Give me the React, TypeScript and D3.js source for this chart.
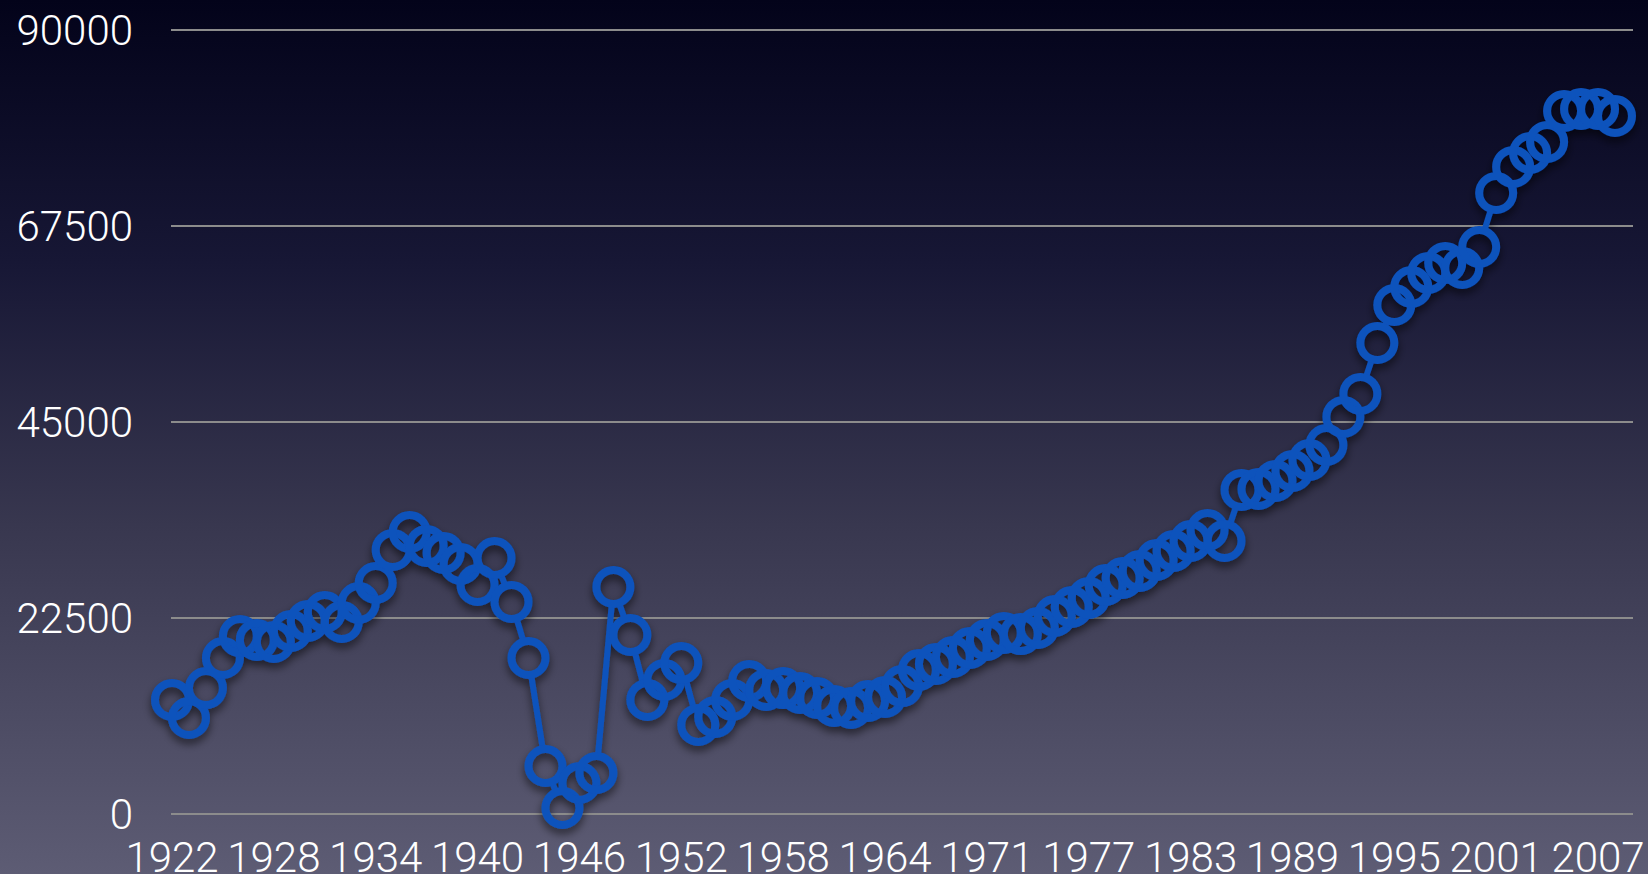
import React from "react";
import * as d3 from "d3";

const years: number[] = [
  ...d3.range(1922, 1965),
  ...d3.range(1966, 2009),
];

const values: number[] = [
  13090, 11020, 14460, 17910, 20430, 19980, 19750, 21010, 22160, 23190,
  22040, 24220, 26520, 30310, 32370, 30770, 29960, 28700, 26290, 29390,
  24340, 17910, 5510, 690, 3560, 4710, 26060, 20550, 13090, 15380,
  17330, 10220, 11140, 13090, 15270, 14240, 14460, 13890, 13320, 12400,
  12170, 12970, 13430, 14690, 16530, 17220, 18020, 19060, 19980, 20780,
  20660, 21350, 22730, 23760, 24800, 26290, 27090, 27900, 29160, 30190,
  31340, 32600, 31340, 37200, 37310, 38230, 39380, 40640, 42360, 45580,
  48220, 54070, 58430, 60500, 62110, 63260, 62680, 65090, 71290, 74280,
  75880, 77150, 80700, 80930, 80930, 80130,
];

const yTicks: number[] = [0, 22500, 45000, 67500, 90000];
const xTickLabels: number[] = [1922, 1928, 1934, 1940, 1946, 1952, 1958, 1964, 1971, 1977, 1983, 1989, 1995, 2001, 2007];

const W = 1648;
const H = 874;

export default function App() {
  const x = d3.scalePoint<number>().domain(years).range([172, 1615]);
  const y = d3.scaleLinear().domain([0, 90000]).range([814, 30]);
  const data = years.map((yr, i) => ({ yr, v: values[i] }));
  const line = d3
    .line<{ yr: number; v: number }>()
    .x((d) => x(d.yr) as number)
    .y((d) => y(d.v));
  const font = "'Helvetica Neue', Roboto, 'Liberation Sans', sans-serif";
  const blue = "#0b52bc";
  return (
    <svg width={W} height={H} style={{ position: "absolute", left: 0, top: 0 }}>
      <defs>
        <linearGradient id="bg" x1="0" y1="0" x2="0" y2="1">
          <stop offset="0" stopColor="#03031a" />
          <stop offset="0.3" stopColor="#171735" />
          <stop offset="0.6" stopColor="#38374f" />
          <stop offset="1" stopColor="#5d5c74" />
        </linearGradient>
        <filter id="shadow" x="-10%" y="-10%" width="120%" height="130%">
          <feDropShadow dx="0" dy="5" stdDeviation="4" floodColor="#000" floodOpacity="0.55" />
        </filter>
        <mask id="lineMask" maskUnits="userSpaceOnUse" x="0" y="0" width={W} height={H}>
          <rect x="0" y="0" width={W} height={H} fill="#fff" />
          {data.map((d, i) => (
            <circle key={i} cx={x(d.yr) as number} cy={y(d.v)} r={16} fill="#000" />
          ))}
        </mask>
      </defs>
      <rect x="0" y="0" width={W} height={H} fill="url(#bg)" />
      {yTicks.map((t) => (
        <g key={t}>
          <line x1={171} x2={1633} y1={y(t)} y2={y(t)} stroke="#8c8c8c" strokeWidth={2} />
          <text
            x={133}
            y={y(t) + 15}
            textAnchor="end"
            fill="#fff"
            fontFamily={font}
            fontWeight={300}
            fontSize={42}
          >
            {t}
          </text>
        </g>
      ))}
      {xTickLabels.map((t) => (
        <text
          key={t}
          x={x(t) as number}
          y={872}
          textAnchor="middle"
          fill="#fff"
          fontFamily={font}
          fontWeight={300}
          fontSize={42}
        >
          {t}
        </text>
      ))}
      <g filter="url(#shadow)">
        <path d={line(data) || ""} fill="none" stroke={blue} strokeWidth={6} mask="url(#lineMask)" />
        {data.map((d, i) => (
          <circle
            key={i}
            cx={x(d.yr) as number}
            cy={y(d.v)}
            r={17}
            fill="none"
            stroke={blue}
            strokeWidth={8}
          />
        ))}
      </g>
    </svg>
  );
}
